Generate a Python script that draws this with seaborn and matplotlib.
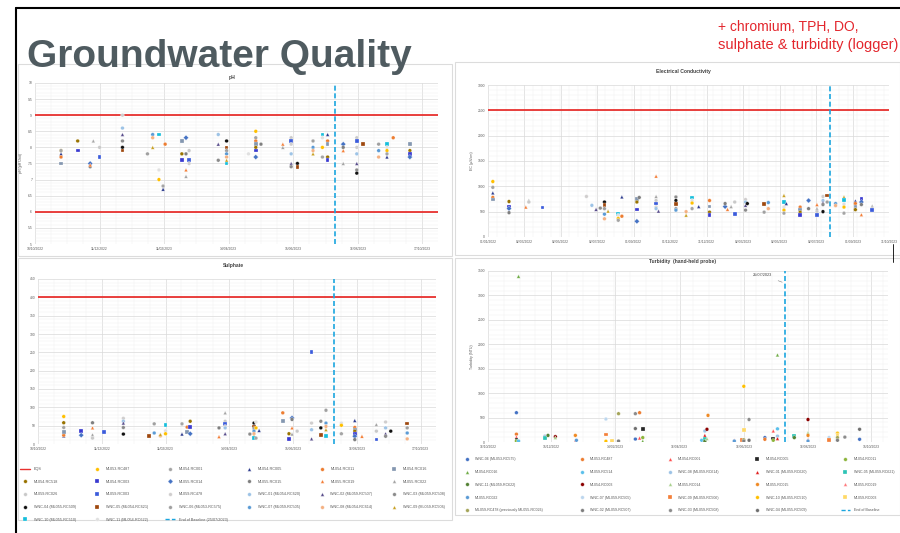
import numpy as np
import pandas as pd
import matplotlib
matplotlib.use('Agg')
import matplotlib.pyplot as plt
import matplotlib.dates as mdates
from matplotlib.lines import Line2D
from matplotlib.patches import Rectangle
from matplotlib.ticker import AutoMinorLocator, FuncFormatter
import seaborn as sns

# ---------------- data ----------------
baseline_end = "2023-07-25"

ph_wells = ["ML053-RC487", "ML054-RC001", "ML054-RC005", "ML054-RC011", "ML054-RC016",
            "ML054-RC518", "ML054-RC003", "ML055-RC014", "ML055-RC015", "ML055-RC019", "ML055-RC022",
            "ML059-RC026", "ML059-RC003", "ML059-RC478", "WNC-01 (ML054-RC620)", "WNC-02 (ML059-RC507)",
            "WNC-03 (ML059-RC508)", "WNC-04 (ML055-RC509)", "WNC-05 (ML054-RC621)", "WNC-06 (ML053-RC575)",
            "WNC-07 (ML059-RC505)", "WNC-08 (ML054-RC614)", "WNC-09 (ML059-RC506)",
            "WNC-10 (ML055-RC510)", "WNC-11 (ML054-RC622)"]

tur_wells = ["WNC-06 (ML053-RC575)", "ML053-RC487", "ML054-RC001", "ML054-RC005", "ML054-RC011",
             "ML054-RC016", "ML059-RC514", "WNC-08 (ML059-RC614)", "WNC-01 (ML059-RC620)", "WNC-05 (ML059-RC621)",
             "WNC-11 (ML059-RC622)", "ML054-RC003", "ML055-RC014", "ML055-RC015", "ML055-RC019",
             "ML055-RC022", "WNC-07 (ML059-RC505)", "WNC-09 (ML059-RC506)", "WNC-10 (ML055-RC510)", "ML059-RC003",
             "ML059-RC478 (previously ML055-RC026)", "WNC-02 (ML059-RC507)", "WNC-03 (ML059-RC508)",
             "WNC-04 (ML055-RC509)"]

# pH
ph_dates = ["2022-11-04", "2022-11-20", "2022-12-02", "2022-12-05", "2022-12-11", "2023-01-02", "2023-01-26",
            "2023-01-31", "2023-02-06", "2023-02-10", "2023-02-12", "2023-02-28", "2023-03-04", "2023-03-07",
            "2023-04-04", "2023-04-12", "2023-05-03", "2023-05-10", "2023-05-15", "2023-06-05", "2023-06-13",
            "2023-06-19", "2023-07-04", "2023-07-13", "2023-07-18", "2023-08-02", "2023-08-15", "2023-08-21",
            "2023-09-05", "2023-09-13", "2023-09-19", "2023-10-05"]
ph_values = [[7.9, 7.9, 7.8, 7.7, 7.5], [8.2, 7.9], [7.5, 7.4, 7.45], [8.2], [8.0, 7.7],
             [9.0, 8.6, 8.4, 8.2, 8.0, 7.9], [7.8], [8.4, 8.3, 8.0], [8.4, 7.3, 7.0], [6.8, 6.7], [8.1],
             [8.2, 7.8, 7.6], [8.3, 7.8, 7.3, 7.1], [7.9, 7.6, 7.5], [8.4, 8.1, 7.6],
             [8.2, 8.0, 7.9, 7.8, 7.7, 7.6, 7.5], [7.8], [8.5, 8.3, 8.2, 8.2, 8.1, 8.0, 7.9, 7.7], [8.1],
             [8.1, 8.0], [8.3, 8.2, 8.1, 7.8, 7.5, 7.4], [7.5, 7.4], [8.2, 8.0, 7.9, 7.8], [8.4, 8.3, 8.0, 7.7],
             [8.4, 8.2, 8.1, 7.7, 7.6], [8.1, 8.0, 7.9, 7.5], [8.3, 8.2, 8.0, 7.8, 7.5, 7.3, 7.2], [8.1],
             [8.1, 7.9, 7.7], [8.1, 8.1, 8.0, 7.9, 7.8, 7.7], [8.3], [8.1, 7.9, 7.8, 7.7]]
ph_ticks = ["10/10/2022", "11/12/2022", "11/02/2023", "14/04/2023", "15/06/2023", "16/08/2023", "17/10/2023"]
ph_eqs = [6, 9]

# Electrical conductivity
ec_dates = ["2022-01-09", "2022-02-05", "2022-03-05", "2022-03-10", "2022-04-02", "2022-06-14", "2022-06-23",
            "2022-06-30", "2022-07-07", "2022-07-14", "2022-07-20", "2022-08-06", "2022-08-12", "2022-09-06",
            "2022-09-10", "2022-10-08", "2022-10-12", "2022-11-10", "2022-11-27", "2022-12-07", "2022-12-18",
            "2023-01-05", "2023-01-31", "2023-02-04", "2023-02-10", "2023-02-16", "2023-03-06", "2023-03-09",
            "2023-04-06", "2023-04-13", "2023-05-09", "2023-05-13", "2023-06-05", "2023-06-19", "2023-07-03",
            "2023-07-13", "2023-07-20", "2023-08-03", "2023-08-17", "2023-09-05", "2023-09-15", "2023-10-03"]
ec_values = [[1095, 980, 870, 780, 740], [700, 590, 560, 480], [590], [720, 690], [585], [800], [625], [545],
             [570], [690, 630, 560, 450, 360], [510], [460, 430, 365, 330], [790, 410], [750, 690, 545, 310],
             [780], [1200, 800, 720, 660, 590, 560], [510], [790, 720, 650, 560, 530], [500, 430],
             [780, 720, 670, 560], [600], [720, 600, 490, 430], [600, 660], [545], [600], [690, 460],
             [740, 690, 625, 530], [660], [650, 490], [680, 560], [820, 690, 590, 530, 470], [660],
             [590, 540, 490, 440], [720, 560], [640, 560, 500, 430], [800, 720, 680, 640, 500], [820, 690],
             [660, 620], [790, 730, 650, 590, 470], [710, 660, 600, 540], [750, 690, 640, 440], [610, 560, 530]]
ec_ticks = ["01/01/2022", "02/03/2022", "02/05/2022", "02/07/2022", "01/09/2022", "01/11/2022", "31/12/2022",
            "02/03/2023", "02/05/2023", "02/07/2023", "01/09/2023", "31/10/2023"]
ec_eqs = [2500]

# Sulphate
so4_dates = ["2022-11-04", "2022-11-21", "2022-12-02", "2022-12-13", "2023-01-01", "2023-01-26", "2023-01-31",
             "2023-02-06", "2023-02-11", "2023-02-27", "2023-03-04", "2023-03-07", "2023-04-04", "2023-04-10",
             "2023-05-04", "2023-05-08", "2023-05-10", "2023-05-13", "2023-06-05", "2023-06-11", "2023-06-14",
             "2023-06-19", "2023-07-03", "2023-07-12", "2023-07-17", "2023-08-01", "2023-08-14", "2023-08-21",
             "2023-09-04", "2023-09-13", "2023-09-18", "2023-10-04"]
so4_values = [[75, 45, 22, 24, 33, 58], [36, 24], [58, 44, 25, 16], [33], [70, 62, 57, 45, 27], [21], [55, 30],
              [22, 26], [51, 36, 28], [55, 27], [46, 32], [62, 47, 28], [44, 20], [85, 62, 55, 48, 44, 28], [27],
              [57, 48, 42, 35, 28, 21, 16], [60, 44, 16], [37], [85, 62], [28, 14], [71, 67, 44, 27], [35],
              [250, 57, 39, 14], [62, 44, 25], [92, 57, 48, 39, 21], [57, 51, 28], [64, 45, 39, 35, 28, 21, 12],
              [21], [53, 35, 12], [60, 44, 28, 21], [35], [56, 44, 30, 14]]
so4_eqs = [400]

# Turbidity
tur_dates = ["2022-11-12", "2022-11-14", "2022-12-09", "2022-12-12", "2022-12-19", "2023-01-07", "2023-01-08",
             "2023-02-05", "2023-02-11", "2023-02-17", "2023-03-05", "2023-03-09", "2023-03-12", "2023-05-07",
             "2023-05-10", "2023-05-12", "2023-05-13", "2023-06-07", "2023-06-14", "2023-06-16", "2023-06-21",
             "2023-07-06", "2023-07-14", "2023-07-18", "2023-08-03", "2023-08-16", "2023-09-05", "2023-09-13",
             "2023-09-20", "2023-10-04"]
tur_values = [[600, 160, 100, 50, 20], [3390, 20], [120, 100, 80], [135], [110, 90], [135, 20], [35],
              [470, 155, 15], [20], [580, 20], [580, 275, 60], [600, 80], [260, 90, 15], [35], [225, 135, 55, 15],
              [260, 70], [545], [35, 20], [45, 35], [1140, 250, 45, 20], [460, 35], [90, 55], [225, 70, 35],
              [1780, 270, 120, 70], [120, 90], [460, 190, 135, 45, 20], [90, 45], [180, 140, 90, 35], [100],
              [260, 55]]
tur_ticks = ["16/10/2022", "15/12/2022", "14/02/2023", "16/04/2023", "16/06/2023", "16/08/2023", "15/10/2023"]

# ---------------- styles ----------------
ph_colors = ['#FFC000', '#A5A5A5', '#2F3D8F', '#ED7D31', '#8497B0',
             '#997300', '#3A3AD0', '#4472C4', '#7F7F7F', '#F4803A', '#A5A5A5',
             '#C9C9C9', '#3B5BDB', '#D0CECE', '#9DC3E6', '#5A4E8C', '#8C8C8C',
             '#111111', '#9E480E', '#A0A0A0', '#5B9BD5', '#F4B183', '#C9A227',
             '#17BEDB', '#E0E0E0']
ph_markers = ['o', 'o', '^', 'o', 's', 'o', 's', 'D', 'o', '^', '^', 'o', 's', 'o', 'o', '^', 'o',
              'o', 's', 'o', 'o', 'o', '^', 's', 'o']
tur_colors = ['#4472C4', '#ED7D31', '#FF5050', '#262626', '#8DB53C', '#70AD47', '#5BC0EB', '#9DC3E6',
              '#E02020', '#2EC4B6', '#548235', '#8B0000', '#A9D18E', '#F08A24', '#FF7C80', '#5B9BD5',
              '#BDD7EE', '#F4803A', '#FFC000', '#FFD966', '#A5A55A', '#7F7F7F', '#8C8C8C', '#6F6F6F']
tur_markers = ['o', 'o', '^', 's', 'o', '^', 'o', 'o', '^', 's', 'o', 'o', '^', 'o', '^', 'o', 'o', 's',
               'o', 's', 'o', 'o', 'o', 'o']

RED = '#E8312F'
CYAN = '#1BA6DF'
GRID = '#d9d9d9'
TXT = '#595959'

sns.set_theme(style='white')
plt.rcParams['font.family'] = ['Liberation Sans', 'DejaVu Sans']

W, H = 900, 533
fig = plt.figure(figsize=(9, 5.33), dpi=100)
fig.patch.set_facecolor('white')


def fx(px):
    return px / W


def fy(py):
    return 1 - py / H


def long_table(dates, values, wells):
    rows = []
    k = 0
    for d, vals in zip(dates, values):
        for v in vals:
            rows.append((pd.Timestamp(d), v, wells[k % len(wells)]))
            k += 1
    return pd.DataFrame(rows, columns=['date', 'value', 'well'])


def panel(box, ticks, xlim, ylim, ystep, eqs, df, wells, colors, markers, ylabel, legend=False):
    x0, y0, x1, y1 = box
    ax = fig.add_axes([fx(x0), fy(y1), fx(x1 - x0), (y1 - y0) / H])
    sns.scatterplot(data=df, x='date', y='value', hue='well', style='well',
                    hue_order=wells, style_order=wells,
                    palette=dict(zip(wells, colors)), markers=dict(zip(wells, markers)),
                    s=7, linewidth=0.2, edgecolor='white', legend='full' if legend else False,
                    ax=ax, zorder=3)
    for e in eqs:
        ax.axhline(e, color=RED, lw=1.3, zorder=2)
    ax.axvline(pd.Timestamp(baseline_end), color=CYAN, lw=1.2, dashes=(3, 1.6), zorder=4)
    tick_dates = pd.to_datetime(ticks, format='%d/%m/%Y')
    ax.set_xticks(tick_dates)
    ax.set_xlim(pd.Timestamp(xlim[0]), pd.Timestamp(xlim[1]))
    ax.xaxis.set_major_formatter(mdates.DateFormatter('%d/%m/%Y'))
    ax.xaxis.set_minor_locator(AutoMinorLocator(4))
    ax.set_ylim(*ylim)
    ax.set_yticks(np.arange(ylim[0], ylim[1] + ystep / 2, ystep))
    ax.yaxis.set_major_formatter(FuncFormatter(lambda v, p: f'{v:g}'))
    ax.yaxis.set_minor_locator(AutoMinorLocator(5))
    ax.grid(which='major', color=GRID, lw=0.5)
    ax.grid(which='minor', color='#f0f0f0', lw=0.35)
    ax.set_axisbelow(True)
    ax.tick_params(which='both', length=0, labelsize=2.4, labelcolor=TXT, pad=2)
    for s in ax.spines.values():
        s.set_visible(False)
    ax.set_xlabel('')
    ax.set_ylabel(ylabel, fontsize=2.6, color=TXT, labelpad=3)
    return ax


# frames of the four pasted charts
for (a, b, c, d) in [(18, 64, 452, 256), (455, 62, 900, 255), (18, 258, 452, 520), (455, 258, 900, 515)]:
    fig.add_artist(Rectangle((fx(a), fy(d)), fx(c - a), (d - b) / H, transform=fig.transFigure,
                             facecolor='white', edgecolor='#dcdcdc', lw=0.8, zorder=0))

ph_df = long_table(ph_dates, ph_values, ph_wells)
ec_df = long_table(ec_dates, ec_values, ph_wells)
so4_df = long_table(so4_dates, so4_values, ph_wells)
tur_df = long_table(tur_dates, tur_values, tur_wells)

ax_ph = panel((35, 83, 438, 244), ph_ticks, ("2022-10-10", "2023-11-01"), (5, 10), 0.5, ph_eqs,
              ph_df, ph_wells, ph_colors, ph_markers, 'pH (pH Unit)', legend=True)
ax_ec = panel((488, 85, 889, 237), ec_ticks, ("2022-01-01", "2023-10-31"), (0, 3000), 500, ec_eqs,
              ec_df, ph_wells, ph_colors, ph_markers, 'EC (µS/cm)')
ax_so4 = panel((38, 279, 436, 444), ph_ticks, ("2022-10-10", "2023-11-01"), (0, 450), 50, so4_eqs,
               so4_df, ph_wells, ph_colors, ph_markers, '')
ax_tur = panel((488, 271, 888, 442), tur_ticks, ("2022-10-16", "2023-10-31"), (0, 3500), 500, [],
               tur_df, tur_wells, tur_colors, tur_markers, 'Turbidity (NTU)', legend=True)

ax_tur.annotate('25/07/2023', xy=(pd.Timestamp(baseline_end), 3250), xytext=(-16, 6),
                textcoords='offset points', ha='center', va='center', fontsize=2.8, color='#404040',
                arrowprops=dict(arrowstyle='-', color='#7f7f7f', lw=0.4))

# panel titles
for (x, y, t) in [(232, 78, 'pH'), (683, 72, 'Electrical Conductivity'),
                  (233, 265, 'Sulphate'), (683, 262, 'Turbidity  (hand-held probe)')]:
    fig.text(fx(x), fy(y), t, ha='center', va='center', fontsize=3.6, fontweight='bold', color='#404040')


def row_major(items, ncol):
    n = len(items)
    nrows, nlarge = divmod(n, ncol)
    out = []
    for c in range(ncol):
        rows = nrows + 1 if c < nlarge else nrows
        for r in range(rows):
            out.append(items[r * ncol + c])
    return out


def well_handles(ax, wells):
    h, l = ax.get_legend_handles_labels()
    lut = {}
    for hh, ll in zip(h, l):
        if ll in wells and ll not in lut:
            lut[ll] = hh
    if ax.get_legend() is not None:
        ax.get_legend().remove()
    return [(lut[w], w) for w in wells if w in lut]


eqs_handle = Line2D([], [], color=RED, lw=1.0)
base_handle = Line2D([], [], color=CYAN, lw=1.0, dashes=(3, 1.6))

ph_items = [(eqs_handle, 'EQS')] + well_handles(ax_ph, ph_wells) + [(base_handle, 'End of Baseline (25/07/2023)')]
ph_items = row_major(ph_items, 6)
fig.legend([i[0] for i in ph_items], [i[1] for i in ph_items], loc='upper left',
           bbox_to_anchor=(fx(20), fy(522), fx(425), (522 - 467) / H), mode='expand', ncol=6,
           fontsize=2.7, frameon=False, handlelength=2.6, handletextpad=1.0, labelspacing=2.3,
           borderaxespad=0, borderpad=0, labelcolor=TXT)

tur_items = well_handles(ax_tur, tur_wells) + [(base_handle, 'End of Baseline')]
tur_items = row_major(tur_items, 5)
fig.legend([i[0] for i in tur_items], [i[1] for i in tur_items], loc='upper left',
           bbox_to_anchor=(fx(462), fy(515), fx(432), (515 - 457) / H), mode='expand', ncol=5,
           fontsize=2.6, frameon=False, handlelength=2.6, handletextpad=1.0, labelspacing=2.45,
           borderaxespad=0, borderpad=0, labelcolor=TXT)

# slide title and note
fig.text(fx(27), fy(67), 'Groundwater Quality', ha='left', va='baseline', fontsize=28, fontweight='bold',
         color='#4f5b60', family=['Liberation Sans', 'DejaVu Sans'])
fig.text(fx(718), fy(27), '+ chromium, TPH, DO,', ha='left', va='center', fontsize=10, color='#E3262D')
fig.text(fx(718), fy(45), 'sulphate & turbidity (logger)', ha='left', va='center', fontsize=10.5,
         color='#E3262D')

# slide border lines
fig.add_artist(Line2D([fx(16), fx(16)], [0, fy(8)], transform=fig.transFigure, color='black', lw=1.5))
fig.add_artist(Line2D([fx(16), 1], [fy(8), fy(8)], transform=fig.transFigure, color='black', lw=1.5))
fig.add_artist(Line2D([fx(893), fx(893)], [fy(262), fy(244)], transform=fig.transFigure, color='black', lw=0.6))

fig.savefig('out.png', dpi=100, facecolor='white')
